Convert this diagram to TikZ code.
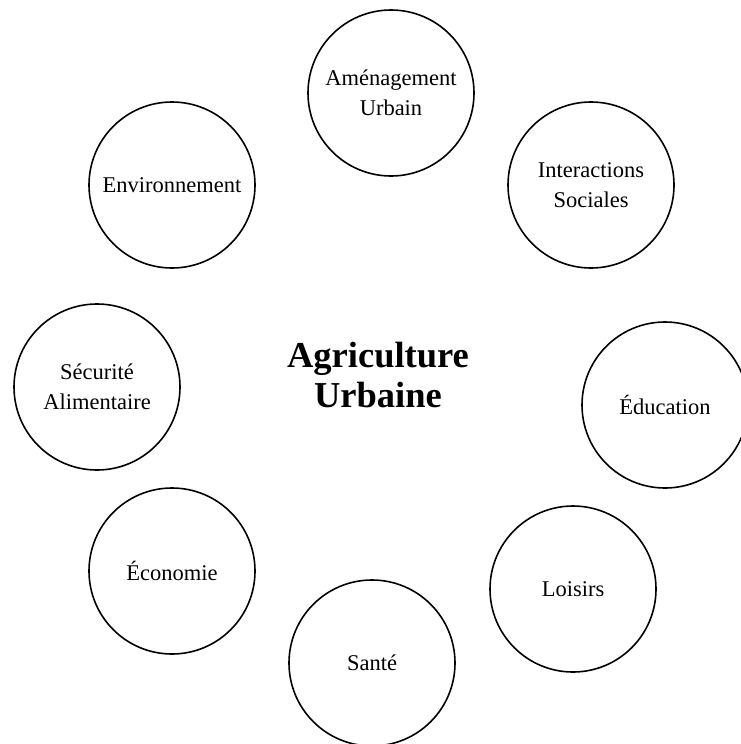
\documentclass[tikz,border=0pt]{standalone}
\usepackage{fontspec}
\setmainfont{Liberation Serif}
\begin{document}
\begin{tikzpicture}[x=1pt,y=-1pt,%
        theme/.style={shape=circle,draw,line width=1.6pt,minimum size=166pt,inner sep=0pt,align=center,font=\fontsize{22.5}{30}\selectfont},
        hub/.style={align=center,font=\fontsize{36.5}{40}\selectfont\bfseries}
    ]
    \useasboundingbox (0,0) rectangle (740,744);
    \node [hub] (agri) at (378,375) {Agriculture\\Urbaine};
    \node [theme] (amenag) at (391,93) {Aménagement\\Urbain};
    \node [theme] (inter) at (591,185) {Interactions\\Sociales};
    \node [theme] (educ) at (665,405) {Éducation};
    \node [theme] (loisirs) at (573,589) {Loisirs};
    \node [theme] (sante) at (372,663) {Santé};
    \node [theme] (eco) at (172,571) {Économie};
    \node [theme] (secu) at (97,387) {Sécurité\\Alimentaire};
    \node [theme] (envir) at (172,185) {Environnement};
\end{tikzpicture}
\end{document}
